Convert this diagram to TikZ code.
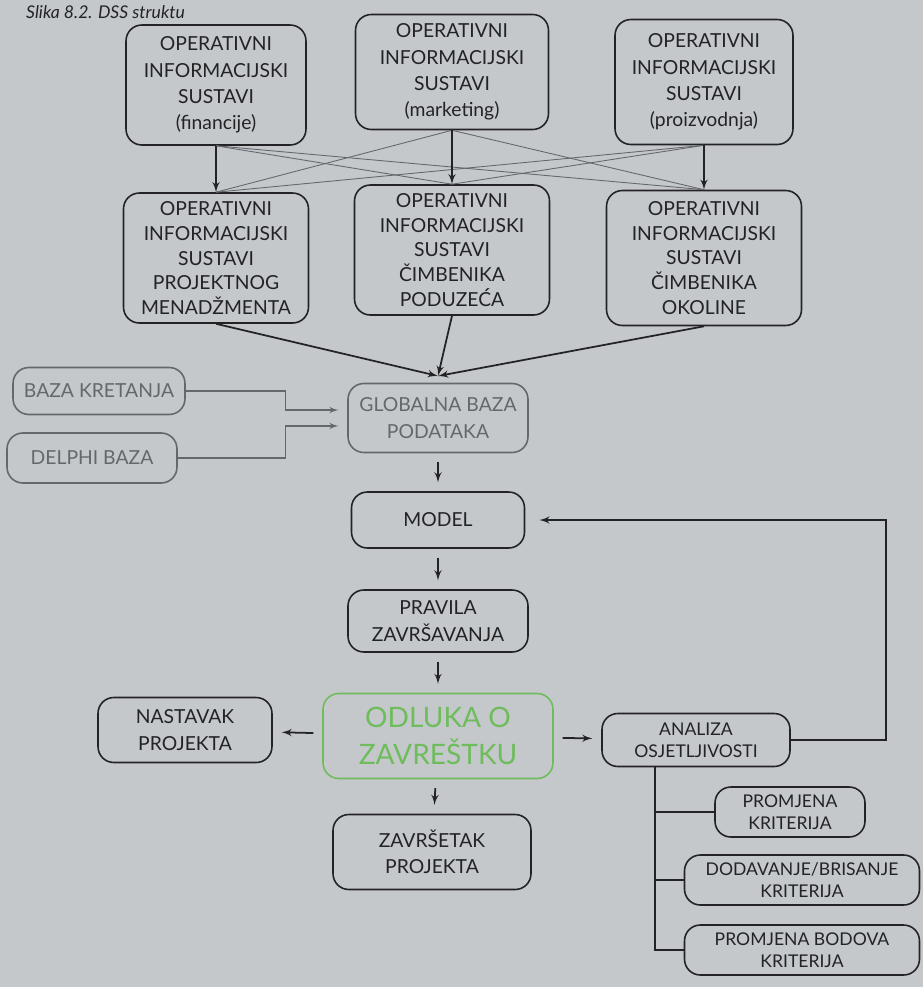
\documentclass[tikz,border=0pt]{standalone}
\usepackage{fontspec}
\setmainfont{Lato}
\usetikzlibrary{arrows}
\definecolor{paper}{RGB}{196,200,203}
\definecolor{ink}{RGB}{35,35,38}
\definecolor{faint}{RGB}{100,103,107}
\definecolor{leaf}{RGB}{110,188,92}
\tikzstyle{block} = [rectangle, draw=ink, text=ink, line width=0.9pt, align=center, rounded corners=9pt, inner sep=2pt, font=\fontsize{11}{15}\selectfont]
\tikzstyle{tallblock} = [block, font=\fontsize{11}{14}\selectfont]
\tikzstyle{greyblock} = [block, draw=faint, text=faint]
\tikzstyle{smallblock} = [block, font=\fontsize{10}{12.5}\selectfont]
\tikzstyle{line} = [draw, line width=1pt, color=ink, -latex']
\tikzstyle{greyline} = [draw, line width=0.8pt, color=faint, -latex']
\tikzstyle{cross} = [draw, line width=0.5pt, color=faint]
\tikzstyle{plain} = [draw, line width=0.9pt, color=ink]
\tikzstyle{gap} = [shorten <=5pt, shorten >=5pt]

\begin{document}
\begin{tikzpicture}[x=0.02cm, y=-0.02cm]
				\fill[paper] (0,0) rectangle (923,987);
				\useasboundingbox (0,0) rectangle (923,987);
				\node[anchor=west, text=ink, font=\itshape\fontsize{10}{11}\selectfont] (title) at (20,12) {Slika 8.2. DSS struktu};
				% Place nodes
				\node [block, minimum width=3.6cm, minimum height=2.4cm] (fin) at (216,85) {OPERATIVNI\\INFORMACIJSKI\\SUSTAVI\\(financije)};
				\node [block, minimum width=3.86cm, minimum height=2.3cm] (mar) at (452,72) {OPERATIVNI\\INFORMACIJSKI\\SUSTAVI\\(marketing)};
				\node [block, minimum width=3.56cm, minimum height=2.5cm] (pro) at (704,82) {OPERATIVNI\\INFORMACIJSKI\\SUSTAVI\\(proizvodnja)};
				\node [tallblock, minimum width=3.7cm, minimum height=2.6cm] (proj) at (216,258) {OPERATIVNI\\INFORMACIJSKI\\SUSTAVI\\PROJEKTNOG\\MENADŽMENTA};
				\node [tallblock, minimum width=3.9cm, minimum height=2.6cm] (pod) at (452,250) {OPERATIVNI\\INFORMACIJSKI\\SUSTAVI\\ČIMBENIKA\\PODUZEĆA};
				\node [tallblock, minimum width=3.9cm, minimum height=2.7cm] (okol) at (704,258) {OPERATIVNI\\INFORMACIJSKI\\SUSTAVI\\ČIMBENIKA\\OKOLINE};
				\node [greyblock, minimum width=3.44cm, minimum height=0.94cm] (kret) at (99,391) {BAZA KRETANJA};
				\node [greyblock, minimum width=3.4cm, minimum height=1.0cm] (delphi) at (92,458) {DELPHI BAZA};
				\node [greyblock, minimum width=3.6cm, minimum height=1.38cm] (glob) at (438,418) {GLOBALNA BAZA\\PODATAKA};
				\node [block, minimum width=3.46cm, minimum height=1.12cm] (model) at (438,520) {MODEL};
				\node [block, minimum width=3.6cm, minimum height=1.24cm] (pravila) at (438,621) {PRAVILA\\ZAVRŠAVANJA};
				\node [block, draw=leaf, text=leaf, minimum width=4.6cm, minimum height=1.7cm, font=\fontsize{16}{21}\selectfont] (odluka) at (438,736) {ODLUKA O\\ZAVREŠTKU};
				\node [block, minimum width=3.48cm, minimum height=1.3cm] (nastavak) at (185,730) {NASTAVAK\\PROJEKTA};
				\node [block, minimum width=3.96cm, minimum height=1.5cm] (zavrsetak) at (432,852) {ZAVRŠETAK\\PROJEKTA};
				\node [smallblock, minimum width=3.76cm, minimum height=1.06cm] (analiza) at (696,740) {ANALIZA\\OSJETLJIVOSTI};
				\node [smallblock, minimum width=3.0cm, minimum height=1.0cm] (krit) at (790,812) {PROMJENA\\KRITERIJA};
				\node [smallblock, minimum width=4.7cm, minimum height=1.0cm] (dodav) at (802,880) {DODAVANJE/BRISANJE\\KRITERIJA};
				\node [smallblock, minimum width=4.7cm, minimum height=1.0cm] (bodovi) at (802,950) {PROMJENA BODOVA\\KRITERIJA};
				\coordinate (hub) at (438,376);
				\coordinate (fork) at (655,0);
				% Draw edges
				\path [cross] (fin.south) -- (pod.north);
				\path [cross] (fin.south) -- (okol.north);
				\path [cross] (mar.south) -- (proj.north);
				\path [cross] (mar.south) -- (okol.north);
				\path [cross] (pro.south) -- (proj.north);
				\path [cross] (pro.south) -- (pod.north);
				\path [line] (fin) -- (proj);
				\path [line] (mar) -- (pod);
				\path [line] (pro) -- (okol);
				\path [line] (proj.south) -- (hub);
				\path [line] (pod.south) -- (hub);
				\path [line] (okol.south) -- (hub);
				\path [greyline, shorten >=5pt] (kret.east) -- ++(100,0) |- (glob.175);
				\path [greyline, shorten >=5pt] (delphi.east) -- ++(108,0) |- (glob.185);
				\path [line, gap] (glob) -- (model);
				\path [line, gap] (model) -- (pravila);
				\path [line, gap] (pravila) -- (odluka);
				\path [line, gap] (odluka) -- (nastavak);
				\path [line, gap] (odluka) -- (zavrsetak);
				\path [line, gap] (odluka) -- (analiza);
				\path [line, shorten >=8pt] (analiza.east) -- ++(95,0) |- (model.east);
				\path [plain] (analiza.south -| fork) |- (krit.west);
				\path [plain] (analiza.south -| fork) |- (dodav.west);
				\path [plain] (analiza.south -| fork) |- (bodovi.west);
			\end{tikzpicture}
\end{document}
